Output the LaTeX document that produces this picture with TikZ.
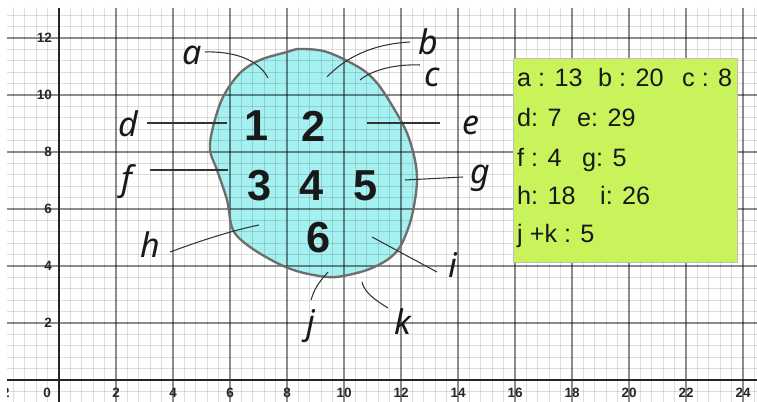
\documentclass[tikz,border=0pt]{standalone}
\usepackage{fontspec}
\setmainfont{Liberation Sans}
\newfontfamily\handfont{Noto Sans}
\definecolor{blobfill}{RGB}{165,240,240}
\definecolor{boxfill}{RGB}{200,243,90}
\definecolor{ink}{RGB}{25,25,25}
\definecolor{blobline}{RGB}{110,110,110}
\begin{document}
\begin{tikzpicture}[x=0.03cm,y=-0.03cm,
 minor/.style={black,opacity=0.13,line width=1.1pt},
 major/.style={black,opacity=0.45,line width=1.2pt},
 axisline/.style={black!85,line width=1.8pt},
 ticklab/.style={font=\fontsize{11.5}{12}\selectfont\bfseries, text=black!85, inner sep=0},
 digit/.style={font=\fontsize{37}{38}\selectfont\bfseries, text=ink, inner sep=0},
 hand/.style={font=\handfont\itshape\fontsize{29}{30}\selectfont, text=ink, inner sep=0},
 leader/.style={draw=black!80, line width=0.9pt},
 entry/.style={font=\fontsize{21.5}{23}\selectfont, text=ink, inner sep=0, anchor=base west}]
\useasboundingbox (0,0) rectangle (757,402);
\fill[white] (0,0) rectangle (757,402);
% blob fill
\fill[blobfill] plot[smooth cycle, tension=0.55] coordinates {(300,49) (327,52) (360,68) (377,83) (393,107) (407,133) (415,160) (417,180) (415,200) (410,223) (400,247) (387,260) (367,270) (343,276) (327,277) (300,272) (277,263) (250,247) (233,230) (227,200) (217,170) (210,150) (213,127) (223,97) (240,73) (260,60) (287,52)};
% grid
\begin{scope}
\clip (7,8) rectangle (757,402);
\foreach \i in {-4,...,61} { \pgfmathtruncatemacro\r{mod(\i+100,5)} \ifnum\r=0\relax\else \draw[minor] ({59+11.4*\i},8) -- ({59+11.4*\i},402);\fi }
\foreach \j in {-1,...,32} { \pgfmathtruncatemacro\r{mod(\j+100,5)} \ifnum\r=0\relax\else \draw[minor] (7,{380-11.4*\j}) -- (757,{380-11.4*\j});\fi }
\foreach \k in {-1,...,12} { \draw[major] ({59+57*\k},8) -- ({59+57*\k},402); }
\foreach \k in {1,...,6} { \draw[major] (7,{380-57*\k}) -- (757,{380-57*\k}); }
\draw[axisline] (59,8) -- (59,402);
\draw[axisline] (7,380) -- (757,380);
\node[ticklab] (xm2) at (2,393) {−2};
\end{scope}
% tick labels
\node[ticklab] (x0) at (47,393) {0};
\foreach \k in {1,...,12} { \node[ticklab] (x\k) at ({59+57*\k},393) {\the\numexpr2*\k\relax}; }
\foreach \k in {1,...,6} { \node[ticklab, anchor=east] (y\k) at (52,{380-57*\k}) {\the\numexpr2*\k\relax}; }
% blob outline
\draw[blobline, line width=2pt] plot[smooth cycle, tension=0.55] coordinates {(300,49) (327,52) (360,68) (377,83) (393,107) (407,133) (415,160) (417,180) (415,200) (410,223) (400,247) (387,260) (367,270) (343,276) (327,277) (300,272) (277,263) (250,247) (233,230) (227,200) (217,170) (210,150) (213,127) (223,97) (240,73) (260,60) (287,52)};
% digits
\node[digit] (n1) at (257,126) {1};
\node[digit] (n2) at (314,126) {2};
\node[digit] (n3) at (260,186) {3};
\node[digit] (n4) at (312,186) {4};
\node[digit] (n5) at (366,186) {5};
\node[digit] (n6) at (319,238) {6};
% labels
\node[hand] (la) at (192,55) {a};
\node[hand] (lb) at (428,42) {b};
\node[hand] (lc) at (432,77) {c};
\node[hand] (ld) at (128,124) {d};
\node[hand] (le) at (471,125) {e};
\node[hand] (lf) at (127,182) {f};
\node[hand] (lg) at (480,178) {g};
\node[hand] (lh) at (150,245) {h};
\node[hand] (li) at (453,265) {i};
\node[hand] (lj) at (311,326) {j};
\node[hand] (lk) at (403,322) {k};
% leader ends
\coordinate (sa) at (205,52);  \coordinate (ea) at (268,78);
\coordinate (sb) at (410,42);  \coordinate (eb) at (327,77);
\coordinate (sc) at (420,65);  \coordinate (ec) at (360,80);
\coordinate (sd) at (147,123); \coordinate (ed) at (227,123);
\coordinate (se) at (440,123); \coordinate (ee) at (367,123);
\coordinate (sf) at (150,170); \coordinate (ef) at (228,170);
\coordinate (sg) at (463,177); \coordinate (eg) at (405,180);
\coordinate (sh) at (170,252); \coordinate (eh) at (259,225);
\coordinate (si) at (437,272); \coordinate (ei) at (372,237);
\coordinate (sj) at (311,300); \coordinate (ej) at (328,272);
\coordinate (sk) at (388,308); \coordinate (ek) at (362,282);
\draw[leader] (sa) .. controls (238,51) and (260,62) .. (ea);
\draw[leader] (sb) .. controls (372,44) and (345,58) .. (eb);
\draw[leader] (sc) .. controls (395,64) and (372,70) .. (ec);
\draw[leader] (sd) -- (ed);
\draw[leader] (se) -- (ee);
\draw[leader] (sf) -- (ef);
\draw[leader] (sg) -- (eg);
\draw[leader] (sh) .. controls (200,241) and (230,231) .. (eh);
\draw[leader] (si) -- (ei);
\draw[leader] (sj) .. controls (314,290) and (318,283) .. (ej);
\draw[leader] (sk) .. controls (375,300) and (364,292) .. (ek);
% legend box
\node[draw=black!25, fill=boxfill, line width=0.6pt, minimum width=6.72cm, minimum height=6.12cm, anchor=north west, inner sep=0] (box) at (513,58) {};
\node[entry] (ta) at (517,87) {a : 13};
\node[entry] (tb) at (598,87) {b : 20};
\node[entry] (tc) at (682,87) {c : 8};
\node[entry] (td) at (517,127) {d: 7};
\node[entry] (te) at (577,127) {e: 29};
\node[entry] (tf) at (517,167) {f : 4};
\node[entry] (tg) at (582,167) {g: 5};
\node[entry] (th) at (517,205) {h: 18};
\node[entry] (ti) at (600,205) {i: 26};
\node[entry] (tj) at (517,243) {j +k : 5};
\end{tikzpicture}
\end{document}
